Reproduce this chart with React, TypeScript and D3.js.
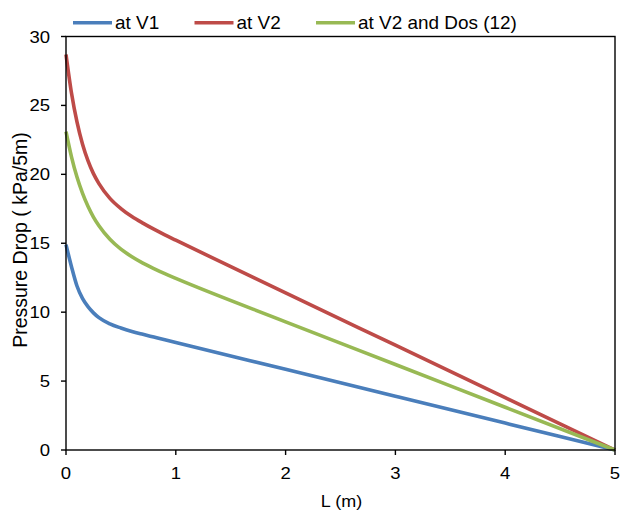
import React from "react";
import * as d3 from "d3";

const L = [0, 0.05, 0.1, 0.15, 0.2, 0.25, 0.3, 0.4, 0.5, 0.6, 0.7, 0.8, 0.9, 1, 2, 3, 4, 5];
const v1 = [14.9, 13.3, 11.9, 11.0, 10.4, 9.95, 9.6, 9.15, 8.85, 8.6, 8.39, 8.19, 7.99, 7.8, 5.85, 3.9, 1.95, 0];
const v2 = [28.7, 25.9, 23.8, 22.2, 20.99, 20.05, 19.33, 18.26, 17.52, 16.94, 16.46, 16.02, 15.61, 15.22, 11.4, 7.6, 3.8, 0];
const v2dos = [23.1, 21.27, 19.8, 18.63, 17.68, 16.9, 16.27, 15.29, 14.57, 14.02, 13.56, 13.16, 12.79, 12.45, 9.3, 6.2, 3.1, 0];

const seriesNames = ["at V1", "at V2", "at V2 and Dos (12)"];
const seriesColors = ["#4A7EBB", "#BE4B48", "#98B954"];
const seriesValues = [v1, v2, v2dos];

const xTicks = [0, 1, 2, 3, 4, 5];
const yTicks = [0, 5, 10, 15, 20, 25, 30];

const W = 621;
const H = 511;
const left = 66;
const right = 615;
const top = 36.5;
const bottom = 450;
const font = "'Liberation Sans', Arial, sans-serif";

export default function App() {
  const x = d3.scaleLinear().domain([0, 5]).range([left, right]);
  const y = d3.scaleLinear().domain([0, 30]).range([bottom, top]);
  const line = d3
    .line<number>()
    .x((_, i) => x(L[i]))
    .y((d) => y(d))
    .curve(d3.curveMonotoneX);

  const legendX = [73, 194.5, 316];

  return (
    <svg
      width={W}
      height={H}
      style={{ position: "absolute", left: 0, top: 0, background: "#fff" }}
      fontFamily={font}
    >
      <rect x={0} y={0} width={W} height={H} fill="#fff" />
      {seriesValues.map((vals, i) => (
        <path key={i} d={line(vals) || ""} fill="none" stroke={seriesColors[i]} strokeWidth={3.6} strokeLinejoin="round" />
      ))}
      <rect x={left} y={top} width={right - left} height={bottom - top} fill="none" stroke="#000" strokeWidth={1.4} />
      {yTicks.map((t) => (
        <g key={t}>
          <line x1={left - 5} x2={left} y1={y(t)} y2={y(t)} stroke="#000" strokeWidth={1.4} />
          <text
            transform={`translate(50,${y(t) + 6}) scale(1.09,1)`}
            textAnchor="end"
            fontSize={17}
            fill="#000"
          >
            {t}
          </text>
        </g>
      ))}
      {xTicks.map((t) => (
        <g key={t}>
          <line x1={x(t)} x2={x(t)} y1={bottom} y2={bottom + 5} stroke="#000" strokeWidth={1.4} />
          <text
            transform={`translate(${x(t)},478.5) scale(1.09,1)`}
            textAnchor="middle"
            fontSize={17}
            fill="#000"
          >
            {t}
          </text>
        </g>
      ))}
      <text transform="translate(341.5,506.5) scale(1.09,1)" textAnchor="middle" fontSize={16.5} fill="#000">
        L (m)
      </text>
      <text transform="translate(26.5,240) rotate(-90)" textAnchor="middle" fontSize={19.5} fill="#000">
        Pressure Drop ( kPa/5m)
      </text>
      {seriesNames.map((n, i) => (
        <g key={n}>
          <line x1={legendX[i]} x2={legendX[i] + 39} y1={22.7} y2={22.7} stroke={seriesColors[i]} strokeWidth={3.6} />
          <text
            transform={`translate(${legendX[i] + 42},28.6) scale(1.07,1)`}
            fontSize={17.7}
            fill="#000"
          >
            {n}
          </text>
        </g>
      ))}
    </svg>
  );
}
